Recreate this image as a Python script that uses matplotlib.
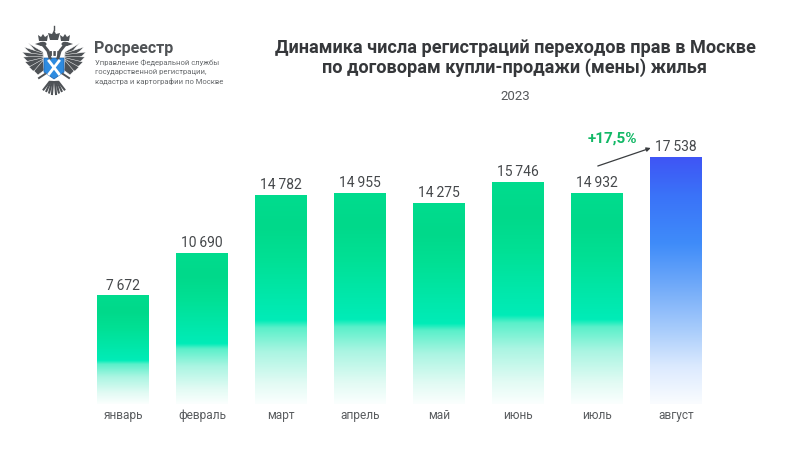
#!/usr/bin/env python3
# Rosreestr bar chart: registrations per month, Moscow 2023
import numpy as np
import matplotlib
matplotlib.use('Agg')
import matplotlib.pyplot as plt
from matplotlib.colors import LinearSegmentedColormap
from matplotlib.patches import Polygon, Ellipse

months = ['январь', 'февраль', 'март', 'апрель', 'май', 'июнь', 'июль', 'август']
values = [7672, 10690, 14782, 14955, 14275, 15746, 14932, 17538]
growth_label = '+17,5%'
title_lines = ['Динамика числа регистраций переходов прав в Москве',
               'по договорам купли-продажи (мены) жилья']
year_label = '2023'
org_name = 'Росреестр'
org_lines = ['Управление Федеральной службы',
             'государственной регистрации,',
             'кадастра и картографии по Москве']

plt.rcParams['font.family'] = ['Roboto', 'DejaVu Sans']

W, H = 800, 450
GREY = '#45484b'

# bottom to top: white fade, then the bright break, then darker green
green_cmap = LinearSegmentedColormap.from_list('green', [
    (0.0, '#fbfffe'), (0.1, '#e2fbf4'), (0.25, '#aaf5e2'), (0.365, '#5af0ca'), (0.40, '#00ecb8'),
    (0.7, '#00e094'), (0.85, '#00d98a'), (1.0, '#00dc8e')])
blue_cmap = LinearSegmentedColormap.from_list('blue', [
    (0.0, '#fafcff'), (0.15, '#dceafe'), (0.3, '#a8ccfb'), (0.5, '#6aa6f9'),
    (0.65, '#3f8cfa'), (0.85, '#3a72f8'), (1.0, '#3f55f5')])

fig = plt.figure(figsize=(W / 100, H / 100), dpi=100, facecolor='white')


def px(x, y):
    '''pixel position to figure fraction'''
    return x / W, 1 - y / H


# main axes fills the figure, scaled so that bars land on the reference pixels
ax = fig.add_axes([0, 0, 1, 1])
step = 79.0
x0 = 123.0
base = 404.0
scale = 0.01408
ax.axis('off')

grad = np.linspace(1, 0, 256).reshape(-1, 1)
bar_w = 52 / step
for i, (m, v) in enumerate(zip(months, values)):
    cmap = blue_cmap if i == len(values) - 1 else green_cmap
    ax.imshow(grad, cmap=cmap, vmin=0, vmax=1, aspect='auto',
              extent=(i - bar_w / 2, i + bar_w / 2, 0, v), interpolation='bilinear')
    ax.annotate(f'{v:,}'.replace(',', '\u2009'), (i, v), xytext=(0, 2.5), textcoords='offset points',
                ha='center', va='bottom', fontsize=10, color=GREY)
    ax.annotate(m, (i, 0), xytext=(0, -3.5), textcoords='offset points',
                ha='center', va='top', fontsize=8.6, color='#5a5d60')
ax.set_xlim(-x0 / step, (W - x0) / step)
ax.set_ylim((base - H) / scale, base / scale)

# growth arrow from july to august
ax.annotate('', xy=(6.68, values[7] + 644), xytext=(6.01, values[6] + 1971),
            xycoords='data', arrowprops=dict(arrowstyle='-|>', color='#3a3d40', lw=0.9,
                                             mutation_scale=6, shrinkA=0, shrinkB=0))
fig.text(*px(612, 139), growth_label, ha='center', va='center', fontsize=11,
         fontweight='bold', color='#12b866')

# titles
for line, y in zip(title_lines, [48, 68]):
    fig.text(*px(515, y), line, ha='center', va='center', fontsize=13.1,
             fontweight='bold', color='#35373a')
fig.text(*px(515, 96), year_label, ha='center', va='center', fontsize=9.5, color='#55585b')

# logo text
fig.text(*px(94, 48), org_name, ha='left', va='center', fontsize=11.5,
         fontweight='bold', color='#505356')
for line, y in zip(org_lines, [63, 72, 81]):
    fig.text(*px(95, y), line, ha='left', va='center', fontsize=5.5, color='#66696c')

# logo eagle, rough shapes in pixel coords
logo = fig.add_axes([0, 0, 1, 1], facecolor='none')
logo.set_xlim(0, W)
logo.set_ylim(H, 0)
logo.axis('off')
cx = 54.0
eagle = '#4e5256'
feather_tips = [(26, 43), (30, 47), (32, 52), (31, 57), (29, 62), (25, 67), (20, 71)]
for sgn in (-1, 1):
    # wing feathers, fan out from the shoulder
    for tx, ty in feather_tips:
        logo.add_patch(Polygon([(cx + sgn * 11, 52 + (ty - 43) * 0.3), (cx + sgn * tx, ty),
                                (cx + sgn * (tx - 4), ty + 4), (cx + sgn * 10, 62 + (ty - 43) * 0.3)],
                               closed=True, facecolor=eagle, edgecolor='white', lw=0.35))
    # neck and head
    logo.plot([cx + sgn * 4, cx + sgn * 6, cx + sgn * 10], [58, 51, 46], color=eagle, lw=2.2)
    logo.add_patch(Ellipse((cx + sgn * 11, 44), 7, 4.5, color=eagle, lw=0))
    logo.add_patch(Polygon([(cx + sgn * 13, 42), (cx + sgn * 19, 44), (cx + sgn * 13, 46)],
                           closed=True, color=eagle, lw=0))
    # small crowns
    logo.add_patch(Polygon([(cx + sgn * 7, 41), (cx + sgn * 6, 35), (cx + sgn * 9, 37), (cx + sgn * 11, 34),
                            (cx + sgn * 13, 37), (cx + sgn * 16, 35), (cx + sgn * 15, 41)],
                           closed=True, color=eagle, lw=0))
    # tail and legs
    for k in range(4):
        logo.plot([cx + sgn * (1 + k * 1.2), cx + sgn * (2 + k * 2.8)], [82, 94 - k * 1.5], color=eagle, lw=1.5)
    logo.plot([cx + sgn * 9, cx + sgn * 15], [74, 78], color=eagle, lw=1.4)
# top crown
logo.add_patch(Polygon([(cx - 4, 40), (cx - 6, 33), (cx - 2, 34), (cx, 30), (cx + 2, 34), (cx + 6, 33),
                        (cx + 4, 40)], closed=True, color=eagle, lw=0))
logo.plot([cx, cx], [26, 30], color=eagle, lw=1)
logo.plot([cx - 5, cx + 5], [53, 53], color=eagle, lw=3.5, ls=(0, (0.5, 0.3)))
# shield with white cross
logo.add_patch(Polygon([(cx - 10, 58), (cx + 10, 58), (cx + 10, 72), (cx, 79), (cx - 10, 72)],
                       closed=True, facecolor='#2e8be0', edgecolor='#1d5fa8', lw=0.5))
logo.plot([cx - 5, cx + 5], [61, 74], color='white', lw=2)
logo.plot([cx + 5, cx - 5], [61, 74], color='white', lw=2)

fig.savefig('out.png', dpi=100, facecolor='white')
